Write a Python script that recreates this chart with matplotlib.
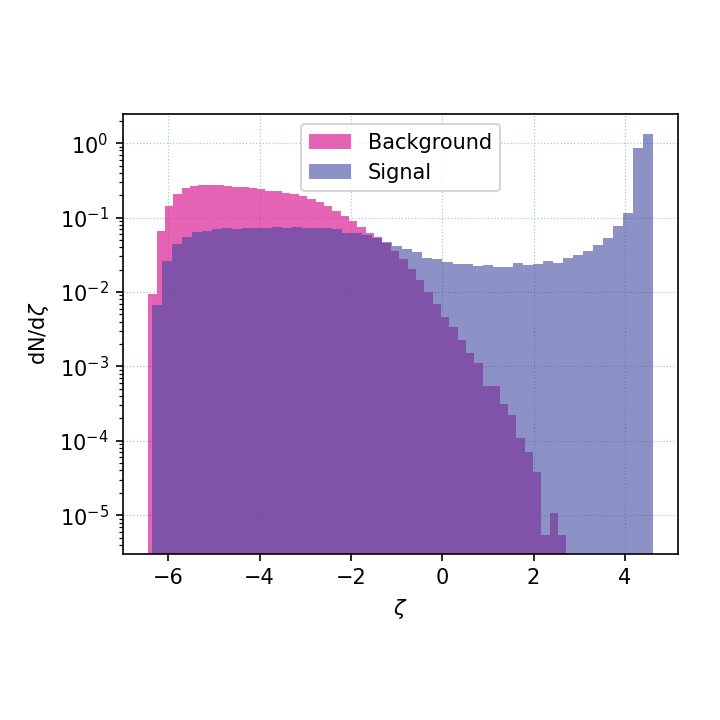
import numpy as np
import matplotlib
matplotlib.use('Agg')
import matplotlib.pyplot as plt

# bin ranges (50 bins each) and dN/dzeta per bin
bkg_lo, bkg_hi = -6.438, 2.722
sig_lo, sig_hi = -6.366, 4.62

bkg = [0.0093, 0.066, 0.145, 0.208, 0.248, 0.266, 0.275, 0.275, 0.27, 0.266,
       0.26, 0.255, 0.248, 0.24, 0.23, 0.224, 0.216, 0.205, 0.193, 0.178,
       0.162, 0.142, 0.123, 0.105, 0.090, 0.075, 0.062, 0.055, 0.046, 0.036,
       0.0275, 0.0205, 0.0145, 0.0101, 0.0070, 0.0046, 0.0034, 0.00225, 0.00152, 0.00111,
       0.00054, 0.00054, 0.00031, 0.00022, 0.00011, 7.1e-5, 3.8e-5, 5.4e-6, 1.08e-5, 5.4e-6]

sig = [0.0067, 0.026, 0.044, 0.054, 0.063, 0.065, 0.070, 0.072, 0.0705, 0.073,
       0.073, 0.072, 0.0755, 0.0725, 0.0755, 0.073, 0.073, 0.0725, 0.071, 0.0626,
       0.0616, 0.0585, 0.0526, 0.047, 0.0415, 0.0378, 0.0348, 0.0283, 0.0275, 0.0255,
       0.0238, 0.0238, 0.0225, 0.0229, 0.0214, 0.0218, 0.0243, 0.0233, 0.0235, 0.0263,
       0.0247, 0.0289, 0.0314, 0.0355, 0.0428, 0.0537, 0.077, 0.116, 0.857, 1.32]

bkg_edges = np.linspace(bkg_lo, bkg_hi, len(bkg) + 1)
sig_edges = np.linspace(sig_lo, sig_hi, len(sig) + 1)

fig = plt.figure(figsize=(4.8, 4.8), dpi=150)
ax = fig.add_axes([0.171, 0.231, 0.771, 0.611])

ax.hist(bkg_edges[:-1], bins=bkg_edges, weights=bkg, color='#da2397', alpha=0.7,
        label='Background')
ax.hist(sig_edges[:-1], bins=sig_edges, weights=sig, color='#3f49a0', alpha=0.6,
        label='Signal')

ax.set_yscale('log')
ax.set_ylim(3.05e-6, 2.48)
ax.set_xlim(-6.99, 5.17)
ax.set_xlabel(r'$\zeta$')
ax.set_ylabel(r'dN/d$\zeta$')
ax.set_axisbelow(True)
ax.grid(True, ls=':', lw=0.6, color='#a8c8d8')
ax.legend(loc='upper center')

fig.savefig('out.png', dpi=150)
